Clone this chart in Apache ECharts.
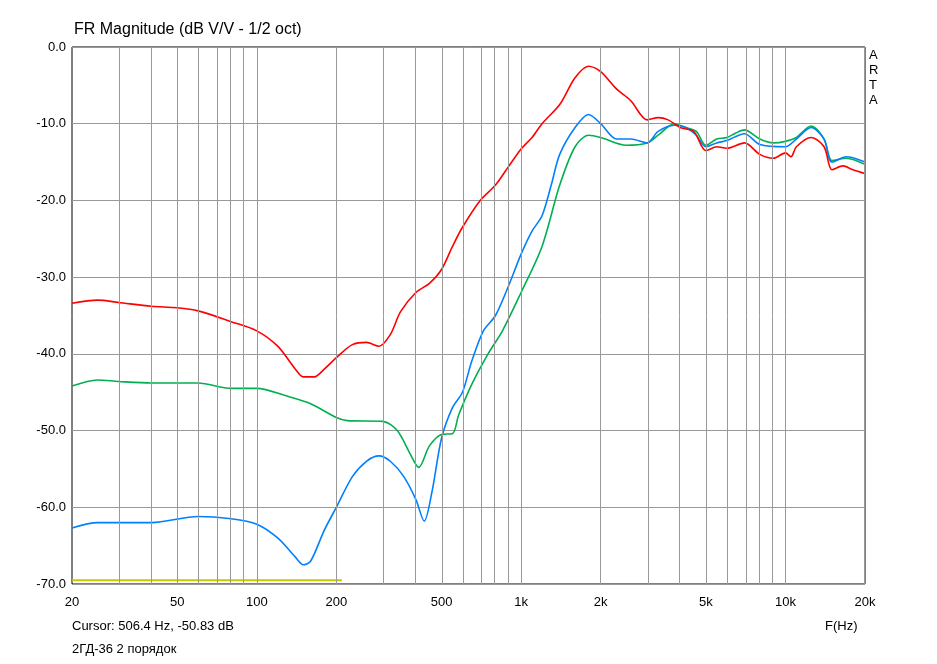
<!DOCTYPE html>
<html><head><meta charset="utf-8">
<script src="https://cdn.jsdelivr.net/npm/echarts@6/dist/echarts.min.js"></script>
<style>html,body{margin:0;background:#fff}#c{width:937px;height:664px}</style>
</head><body><div id="c"></div>
<script>
const tickFreqs=[20,50,100,200,500,1000,2000,5000,10000,20000];
const tickLabels=['20','50','100','200','500','1k','2k','5k','10k','20k'];
const gridFreqs=[20,30,40,50,60,70,80,90,100,200,300,400,500,600,700,800,900,1000,2000,3000,4000,5000,6000,7000,8000,9000,10000,20000];
const redF=[20,25,30,40,50,60,80,100,120,140,150,165,180,200,230,260,290,320,350,400,450,500,550,600,700,800,900,1000,1100,1200,1400,1600,1800,2000,2300,2600,3000,3300,3600,4000,4500,5000,5500,6000,7000,8000,9000,10000,10500,11000,12500,14000,15000,16500,18000,20000];
const redDb=[-33.4,-33,-33.3,-33.8,-34,-34.4,-35.8,-37,-39,-42,-43,-43,-42,-40.5,-38.8,-38.5,-39,-37.5,-34.5,-32,-30.8,-29,-26,-23.5,-20,-18,-15.5,-13.3,-11.8,-10,-7.5,-4,-2.5,-3.2,-5.5,-7,-9.5,-9.2,-9.5,-10.5,-11,-13.5,-13,-13.2,-12.5,-14,-14.5,-13.8,-14.3,-13,-11.8,-13,-16,-15.5,-16,-16.5];
const greenF=[20,25,30,40,60,80,100,130,160,200,220,300,340,380,410,450,500,550,580,650,750,850,1000,1200,1400,1600,1800,2000,2500,3000,3300,3800,4200,4600,5000,5500,6000,6500,7000,8000,9000,10000,11000,12500,14000,15000,17000,20000];
const greenDb=[-44.2,-43.4,-43.6,-43.8,-43.8,-44.5,-44.5,-45.5,-46.5,-48.3,-48.7,-48.8,-50,-53,-54.8,-52,-50.5,-50.4,-48,-44,-40,-37,-32,-26,-18,-13,-11.5,-11.8,-12.8,-12.5,-11.5,-10,-10.5,-11,-12.8,-12,-11.8,-11.2,-10.8,-12,-12.5,-12.3,-11.8,-10.3,-12,-14.8,-14.5,-15.3];
const blueF=[20,25,40,60,80,100,120,140,150,160,180,200,230,260,290,320,360,400,430,460,500,550,600,650,720,800,900,1000,1100,1200,1300,1400,1600,1800,2000,2300,2600,3000,3300,3800,4200,4600,5000,5500,6000,7000,8000,10000,11000,12500,14000,15000,17000,20000];
const blueDb=[-62.7,-62,-62,-61.2,-61.5,-62.2,-64,-66.5,-67.5,-67,-63,-60,-56,-54,-53.3,-54,-56,-59,-61.8,-58,-51,-47,-45,-41,-37,-35,-31,-27,-24,-22,-18,-14,-10.5,-8.8,-10,-12,-12,-12.5,-11,-10.2,-10.5,-11.5,-13,-12.5,-12.2,-11.3,-12.7,-13,-12,-10.5,-12,-15,-14.3,-15];
const yellowF=[20,210];
const yellowDb=[-69.5,-69.5];
const L=f=>Math.log10(f);
const pts=(F,D)=>F.map((f,i)=>[L(f),D[i]]);
const ch=echarts.init(document.getElementById('c'));
const font='Arial, "Liberation Sans", sans-serif';
ch.setOption({
 animation:false,
 grid:{left:72,right:72,top:47,bottom:80,show:true,borderColor:'#000',borderWidth:1},
 xAxis:{type:'value',min:L(20),max:L(20000),splitLine:{show:false},axisTick:{show:false},axisLine:{show:false},
  axisLabel:{customValues:tickFreqs.map(L),formatter:v=>{const i=tickFreqs.findIndex(f=>Math.abs(L(f)-v)<1e-6);return i>=0?tickLabels[i]:'';},color:'#000',fontSize:13,fontFamily:font,margin:12}},
 yAxis:{type:'value',min:-70,max:0,interval:10,axisLine:{show:false},axisTick:{show:false},
  splitLine:{lineStyle:{color:'#999',width:1}},
  axisLabel:{formatter:v=>v.toFixed(1),color:'#000',fontSize:13,fontFamily:font,margin:6}},
 graphic:[
  {type:'text',left:74,top:22,style:{text:'FR Magnitude (dB V/V - 1/2 oct)',font:'500 16px '+font,fill:'#000'}},
  {type:'text',left:869,top:48,style:{text:'A\nR\nT\nA',font:'13px '+font,fill:'#000',lineHeight:15}},
  {type:'text',left:72,top:620,style:{text:'Cursor: 506.4 Hz, -50.83 dB',font:'13px '+font,fill:'#000'}},
  {type:'text',left:825,top:620,style:{text:'F(Hz)',font:'13px '+font,fill:'#000'}},
  {type:'text',left:72,top:643,style:{text:'2ГД-36 2 порядок',font:'13px '+font,fill:'#000'}}
 ],
 series:[
  {type:'line',data:[],silent:true,markLine:{silent:true,symbol:'none',label:{show:false},
    lineStyle:{color:'#999',width:1,type:'solid'},data:gridFreqs.map(f=>({xAxis:L(f)}))}},
  {type:'line',data:pts(yellowF,yellowDb),showSymbol:false,lineStyle:{color:'#c8c800',width:2}},
  {type:'line',data:pts(greenF,greenDb),smooth:0.3,showSymbol:false,lineStyle:{color:'#00b050',width:1.6}},
  {type:'line',data:pts(blueF,blueDb),smooth:0.3,showSymbol:false,lineStyle:{color:'#0080ff',width:1.6}},
  {type:'line',data:pts(redF,redDb),smooth:0.3,showSymbol:false,lineStyle:{color:'#ff0000',width:1.6}}
 ]
});
</script></body></html>
